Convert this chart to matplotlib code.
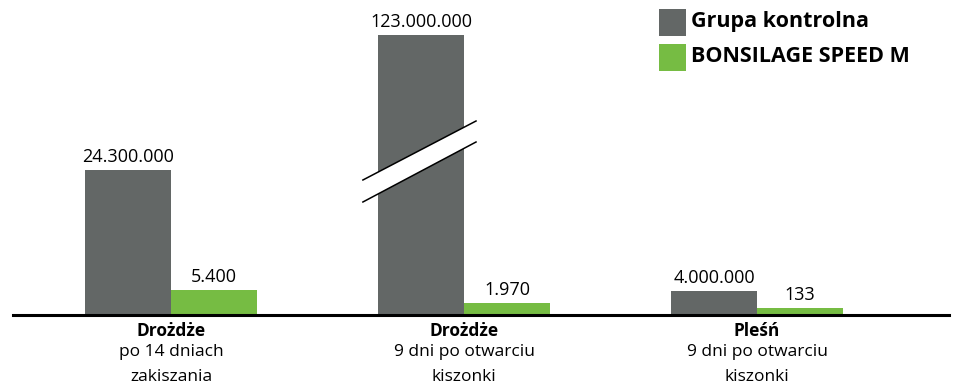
import matplotlib

matplotlib.use("Agg")
import matplotlib.pyplot as plt
import numpy as np
from matplotlib.patches import Polygon, Rectangle

# categories (bold first line + regular description)
categories = ["Drożdże", "Drożdże", "Pleśń"]
descriptions = ["po 14 dniach\nzakiszania", "9 dni po otwarciu\nkiszonki", "9 dni po otwarciu\nkiszonki"]
series_names = ["Grupa kontrolna", "BONSILAGE SPEED M"]

# values printed above the bars
control_labels = ["24.300.000", "123.000.000", "4.000.000"]
bonsilage_labels = ["5.400", "1.970", "133"]

# bar heights as drawn in the picture (stylised, not to scale; middle bar is broken)
control_heights = [145, 280, 24]
bonsilage_heights = [25, 12, 7]

GREY = "#636766"
GREEN = "#76bc43"
FONT = "Open Sans"

fig = plt.figure(figsize=(9.55, 3.85), dpi=100)
ax = fig.add_axes([13 / 955, 70 / 385, 936 / 955, 315 / 385])
ax.set_xlim(-0.539, 2.655)
ax.set_ylim(0, 315)

x = np.arange(len(categories))
w = 0.2935
ax.bar(x - w / 2, control_heights, w, color=GREY, zorder=1)
ax.bar(x + w / 2, bonsilage_heights, w, color=GREEN, zorder=1)

for xi, h, lab in zip(x - w / 2, control_heights, control_labels):
    ax.annotate(lab, (xi, h), xytext=(0, 5.5), textcoords="offset points",
                ha="center", va="baseline", fontsize=13, family=FONT)
for xi, h, lab in zip(x + w / 2, bonsilage_heights, bonsilage_labels):
    ax.annotate(lab, (xi, h), xytext=(0, 5.5), textcoords="offset points",
                ha="center", va="baseline", fontsize=13, family=FONT)

# axis break on the tall bar
x0, x1 = 0.655, 1.041
band = Polygon([(x0, 135), (x1, 194), (x1, 173), (x0, 113)], closed=True,
               facecolor="white", edgecolor="none", zorder=3)
ax.add_patch(band)
ax.plot([x0, x1], [135, 194], color="black", lw=1.1, zorder=4)
ax.plot([x0, x1], [113, 173], color="black", lw=1.1, zorder=4)

# category labels below the baseline
for xi, cat, desc in zip(x, categories, descriptions):
    ax.text(xi, -16, cat, ha="center", va="center", fontsize=12.5, fontweight="bold",
            family=FONT, clip_on=False)
    ax.text(xi, -29, desc, ha="center", va="top", fontsize=12.5, family=FONT,
            linespacing=1.78, clip_on=False)

for side in ["top", "left", "right"]:
    ax.spines[side].set_visible(False)
ax.spines["bottom"].set_linewidth(2.2)
ax.spines["bottom"].set_zorder(5)
ax.set_xticks([])
ax.set_yticks([])

# legend drawn by hand in figure pixels
for i, (name, col) in enumerate(zip(series_names, [GREY, GREEN])):
    top = 9 + i * 35
    fig.patches.append(Rectangle((659 / 955, 1 - (top + 26.5) / 385), 27 / 955, 26.5 / 385,
                                 transform=fig.transFigure, facecolor=col, edgecolor="none"))
    fig.text(691 / 955, 1 - (top + 13) / 385, name, ha="left", va="center",
             fontsize=15.5, fontweight="bold", family=FONT)

fig.savefig("out.png", dpi=100)
